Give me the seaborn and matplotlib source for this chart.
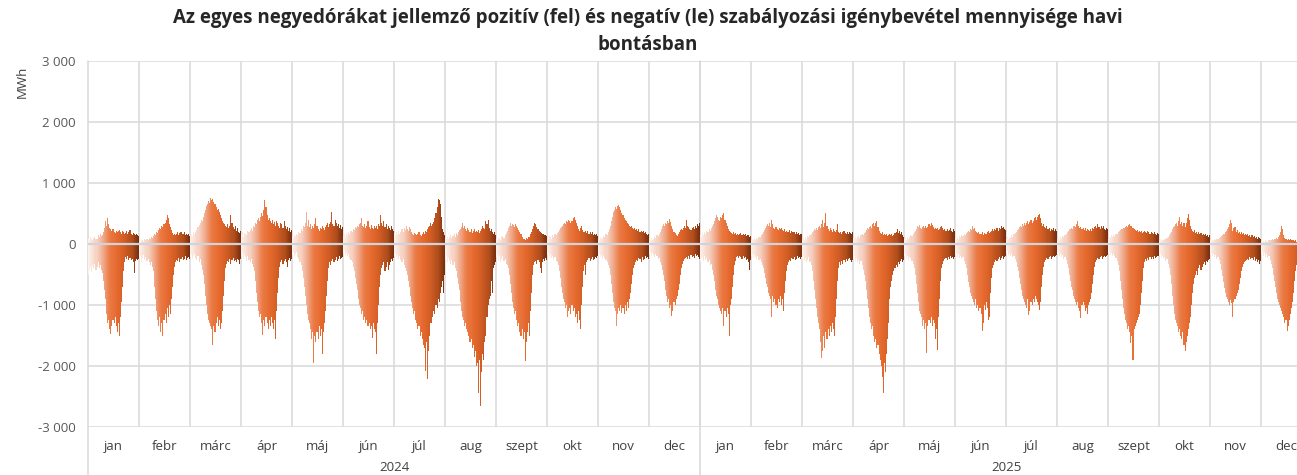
import numpy as np
import pandas as pd
import matplotlib
matplotlib.use("Agg")
import matplotlib.pyplot as plt
from matplotlib.colors import LinearSegmentedColormap, to_hex
from matplotlib.lines import Line2D
import seaborn as sns

# havi hónapnevek és évek
honapok = ["jan", "febr", "márc", "ápr", "máj", "jún", "júl", "aug", "szept", "okt", "nov", "dec"]
evek = ["2024", "2025"]

# 48 félórás érték hónaponként: le = negatív, fel = pozitív (MWh)
le_2024_jan = [-500, -430, -380, -460, -350, -400, -330, -420, -370, -300, -390, -350, -420,
               -480, -600, -750, -900, -1150, -1300, -1250,
               -1400, -1480, -1350, -1250, -1300, -1200, -1350, -1450, -1300, -1500,
               -1200, -950, -700, -450, -300,
               -220, -250, -200, -270, -230, -260, -240, -300, -470, -280, -250, -260, -240]
fel_2024_jan = [90, 70, 110, 80, 60, 100, 120, 80, 90, 150, 110, 170, 130,
                150, 200, 260, 380, 300, 420, 330,
                260, 240, 220, 250, 200, 180, 220, 190, 210, 230,
                200, 170, 220, 190, 160,
                180, 210, 160, 190, 230, 170, 150, 180, 160, 140, 170, 150, 130]

le_2024_feb = [-250, -200, -300, -230, -180, -260, -210, -280, -240, -300, -350, -290, -380,
               -450, -700, -900, -1100, -1250, -1350, -1200,
               -1450, -1300, -1500, -1250, -1150, -1300, -1050, -1200, -1000, -1150,
               -900, -700, -500, -380, -300,
               -260, -280, -230, -300, -250, -220, -270, -240, -200, -260, -230, -210, -250]
fel_2024_feb = [50, 40, 70, 60, 50, 80, 60, 90, 70, 100, 80, 120, 100,
                130, 170, 150, 200, 180, 230, 260,
                250, 300, 280, 320, 350, 400, 480, 420, 330, 280,
                230, 180, 150, 170, 140,
                160, 190, 150, 180, 200, 170, 160, 190, 150, 170, 140, 160, 130]

le_2024_mar = [-220, -180, -250, -200, -170, -230, -260, -200, -300, -250, -350, -420, -500,
               -650, -850, -1000, -1150, -1250, -1300, -1350,
               -1400, -1650, -1350, -1450, -1300, -1200, -1350, -1250, -1400, -1300,
               -1100, -850, -600, -400, -320,
               -280, -300, -250, -320, -270, -230, -280, -260, -300, -240, -270, -320, -250]
fel_2024_mar = [150, 170, 130, 190, 160, 200, 230, 280, 310, 350, 400, 380, 450,
                500, 560, 620, 650, 700, 680, 750,
                720, 740, 690, 650, 600, 560, 580, 520, 480, 430,
                380, 350, 330, 300, 280,
                320, 260, 300, 480, 350, 280, 250, 300, 220, 260, 200, 180, 220]

le_2024_apr = [-200, -150, -250, -180, -220, -280, -200, -260, -300, -240, -330, -380, -450,
               -600, -800, -950, -1100, -1200, -1150, -1300,
               -1490, -1250, -1350, -1200, -1300, -1400, -1250, -1350, -1200, -1300,
               -1400, -1250, -1560, -1100, -800,
               -550, -380, -300, -260, -320, -280, -250, -300, -370, -260, -230, -280, -250]
fel_2024_apr = [150, 200, 120, 180, 160, 140, 210, 190, 230, 260, 220, 300, 280,
                350, 320, 400, 420, 380, 450, 500,
                460, 550, 720, 600, 480, 400, 430, 370, 350, 390,
                320, 360, 300, 380, 340,
                300, 270, 350, 320, 260, 380, 300, 250, 280, 220, 260, 200, 230]

le_2024_maj = [-180, -150, -200, -170, -130, -220, -250, -300, -350, -450, -550, -700, -850,
               -1000, -1150, -1250, -1300, -1400, -1550, -1450,
               -1950, -1500, -1600, -1450, -1550, -1350, -1500, -1400, -1810, -1450,
               -1300, -1100, -850, -600, -400,
               -300, -350, -280, -250, -300, -260, -220, -280, -240, -200, -250, -230, -210]
fel_2024_maj = [120, 100, 150, 130, 170, 140, 200, 180, 250, 220, 300, 280, 350,
                520, 300, 400, 280, 320, 250, 300,
                260, 330, 430, 290, 250, 220, 270, 240, 300, 260,
                230, 280, 310, 350, 280,
                320, 360, 520, 330, 290, 400, 350, 300, 330, 270, 310, 250, 280]

le_2024_jun = [-150, -120, -180, -140, -200, -170, -230, -260, -300, -380, -450, -550, -650,
               -750, -900, -1000, -1050, -1150, -1100, -1250,
               -1200, -1300, -1250, -1350, -1300, -1400, -1350, -1540, -1300, -1400,
               -1450, -1810, -1300, -1000, -700,
               -500, -400, -350, -300, -450, -380, -300, -420, -350, -300, -250, -280, -230]
fel_2024_jun = [130, 160, 120, 180, 150, 200, 170, 220, 190, 250, 230, 280, 260,
                300, 280, 330, 350, 420, 300, 280,
                320, 260, 300, 370, 280, 250, 310, 270, 240, 300,
                260, 290, 250, 330, 300,
                480, 350, 300, 380, 280, 320, 250, 300, 270, 230, 290, 250, 220]

le_2024_jul = [-200, -150, -220, -180, -250, -200, -260, -300, -250, -350, -400, -450, -500,
               -600, -700, -850, -950, -1050, -1150, -1100,
               -1250, -1300, -1400, -1350, -1500, -1450, -1550, -1650, -1700, -2090,
               -1600, -2220, -1750, -1500, -1300,
               -1300, -1200, -1100, -1150, -1000, -1050, -900, -950, -800, -700, -600, -800, -500]
fel_2024_jul = [180, 150, 200, 170, 220, 160, 190, 240, 200, 260, 230, 300, 250,
                220, 280, 240, 200, 170, 150, 180,
                160, 140, 170, 200, 150, 130, 160, 190, 170, 220,
                200, 250, 280, 300, 350,
                300, 330, 360, 420, 500, 600, 730, 720, 650, 450, 250, 200, 150]

le_2024_aug = [-250, -200, -300, -230, -280, -320, -260, -350, -300, -400, -450, -550, -650,
               -750, -950, -1100, -1200, -1250, -1350, -1300,
               -1400, -1450, -1500, -1600, -1550, -1700, -1650, -1850, -1750, -2000,
               -1950, -2440, -1900, -2650, -2100,
               -1800, -1900, -1600, -1500, -1200, -1000, -900, -850, -600, -800, -400, -350, -300]
fel_2024_aug = [100, 80, 120, 90, 110, 140, 100, 130, 160, 120, 180, 150, 200,
                230, 250, 280, 340, 260, 300, 240,
                220, 260, 230, 200, 250, 180, 210, 240, 190, 220,
                200, 230, 180, 210, 250,
                300, 270, 240, 370, 320, 390, 260, 220, 250, 200, 170, 190, 150]

le_2024_szept = [-220, -180, -260, -200, -300, -240, -200, -280, -250, -320, -350, -400, -500,
                 -650, -800, -950, -1050, -1150, -1100, -1250,
                 -1350, -1300, -1450, -1500, -1400, -1550, -1450, -1920, -1600, -1450,
                 -1300, -1500, -1100, -800, -500,
                 -350, -300, -280, -320, -260, -300, -400, -470, -300, -250, -280, -230, -260]
fel_2024_szept = [80, 60, 100, 90, 70, 110, 130, 100, 150, 180, 220, 260, 300,
                  340, 300, 330, 310, 280, 320, 290,
                  260, 230, 200, 160, 120, 90, 80, 70, 100, 90,
                  120, 110, 160, 200, 250,
                  300, 350, 330, 280, 250, 220, 200, 180, 160, 170, 150, 140, 130]

le_2024_okt = [-180, -150, -200, -170, -230, -190, -250, -220, -280, -300, -350, -450, -550,
               -700, -800, -900, -950, -1050, -1000, -1200,
               -1100, -1050, -1150, -1000, -1100, -1050, -1200, -1150, -1300, -1100,
               -1250, -1400, -1000, -700, -450,
               -350, -500, -300, -260, -230, -280, -250, -220, -260, -240, -210, -230, -200]
fel_2024_okt = [100, 80, 130, 110, 90, 140, 120, 160, 150, 180, 200, 230, 260,
                280, 300, 330, 350, 320, 380, 360,
                400, 370, 340, 380, 420, 450, 400, 350, 300, 250,
                220, 260, 300, 230, 200,
                190, 220, 180, 210, 170, 200, 160, 190, 150, 170, 140, 160, 130]

le_2024_nov = [-200, -160, -220, -180, -250, -200, -230, -270, -300, -350, -400, -500, -650,
               -800, -950, -1050, -1100, -1350, -1150, -1050,
               -1100, -1000, -1130, -1050, -1150, -1000, -1100, -950, -1050, -900,
               -800, -650, -500, -400, -350,
               -300, -260, -280, -230, -250, -300, -220, -260, -240, -200, -230, -210, -250]
fel_2024_nov = [90, 70, 110, 80, 100, 130, 110, 160, 140, 200, 250, 300, 380,
                450, 520, 560, 600, 580, 620, 645,
                600, 560, 500, 480, 430, 400, 380, 350, 320, 300,
                280, 300, 260, 240, 270,
                230, 250, 210, 240, 200, 220, 190, 210, 180, 200, 170, 150, 160]

le_2024_dec = [-170, -130, -200, -150, -180, -220, -160, -200, -250, -230, -300, -350, -420,
               -500, -600, -750, -850, -950, -900, -1050,
               -1000, -1180, -1100, -950, -1000, -900, -850, -750, -650, -500,
               -400, -330, -280, -250, -230,
               -220, -250, -200, -240, -180, -210, -190, -230, -170, -200, -180, -220, -240]
fel_2024_dec = [80, 60, 100, 70, 90, 120, 100, 140, 130, 170, 200, 250, 300,
                320, 290, 350, 330, 370, 340, 410,
                360, 300, 250, 200, 180, 150, 130, 160, 200, 230,
                250, 230, 270, 300, 260,
                400, 300, 280, 250, 230, 260, 280, 240, 300, 270, 320, 300, 340]

le_2025_jan = [-300, -250, -220, -280, -200, -260, -230, -300, -270, -350, -330, -420, -500,
               -600, -750, -850, -900, -1000, -1050, -1100,
               -1150, -1050, -1350, -1100, -1200, -1050, -1150, -1510, -1000, -900,
               -700, -500, -350, -280, -220,
               -200, -230, -190, -220, -250, -200, -230, -210, -260, -240, -300, -420, -270]
fel_2025_jan = [150, 120, 180, 140, 200, 170, 220, 190, 240, 210, 260, 300, 330,
                380, 420, 480, 440, 400, 380, 450,
                420, 470, 500, 400, 350, 300, 250, 220, 200, 180,
                170, 190, 160, 180, 150,
                170, 140, 160, 180, 150, 170, 140, 160, 130, 150, 140, 120, 130]

le_2025_feb = [-200, -160, -230, -180, -220, -250, -200, -270, -240, -300, -350, -400, -480,
               -550, -650, -700, -800, -850, -900, -1200,
               -850, -950, -900, -1000, -1050, -900, -950, -850, -1000, -900,
               -1100, -800, -600, -450, -350,
               -300, -260, -280, -230, -250, -220, -270, -240, -200, -230, -210, -250, -220]
fel_2025_feb = [70, 60, 90, 80, 70, 100, 90, 120, 110, 150, 170, 200, 230,
                260, 290, 320, 300, 350, 280, 390,
                330, 260, 240, 280, 250, 230, 270, 240, 260, 230,
                210, 240, 200, 220, 190,
                200, 230, 180, 210, 190, 200, 170, 190, 160, 180, 150, 170, 160]

le_2025_mar = [-250, -200, -280, -230, -300, -260, -220, -290, -350, -450, -600, -750, -900,
               -1050, -1200, -1300, -1400, -1600, -1870, -1750,
               -1500, -1700, -1450, -1550, -1400, -1500, -1350, -1450, -1300, -1400,
               -1500, -1200, -900, -600, -400,
               -300, -350, -280, -320, -260, -300, -240, -280, -250, -230, -270, -300, -260]
fel_2025_mar = [80, 100, 70, 110, 90, 130, 120, 150, 170, 200, 220, 250, 230,
                260, 230, 280, 300, 270, 330, 400,
                280, 350, 510, 300, 250, 220, 260, 230, 200, 240,
                210, 190, 230, 320, 200,
                180, 200, 170, 190, 210, 180, 160, 190, 170, 200, 180, 160, 190]

le_2025_apr = [-250, -200, -280, -230, -300, -260, -330, -280, -350, -420, -500, -600, -750,
               -900, -1050, -1200, -1300, -1400, -1350, -1500,
               -1600, -1550, -1700, -1650, -1800, -1900, -2000, -2180, -2450, -1950,
               -2100, -1800, -1550, -1300, -900,
               -700, -600, -500, -450, -400, -350, -380, -300, -330, -280, -250, -300, -270]
fel_2025_apr = [100, 80, 120, 90, 110, 130, 100, 140, 160, 150, 180, 200, 230,
                260, 240, 280, 300, 270, 320, 340,
                300, 350, 370, 280, 220, 180, 160, 190, 150, 170,
                140, 160, 130, 150, 170,
                140, 160, 130, 150, 180, 200, 240, 180, 210, 160, 190, 140, 120]

le_2025_maj = [-200, -170, -240, -190, -260, -210, -230, -280, -320, -400, -500, -650, -800,
               -950, -1100, -1150, -1200, -1350, -1250, -1400,
               -1300, -1780, -1350, -1250, -1300, -1200, -1350, -1250, -1300, -1550,
               -1400, -1730, -1200, -900, -600,
               -400, -330, -280, -250, -230, -260, -220, -250, -200, -230, -210, -240, -220]
fel_2025_maj = [80, 100, 70, 110, 90, 120, 140, 130, 160, 190, 220, 250, 290,
                280, 310, 260, 250, 280, 300, 270,
                300, 260, 280, 320, 290, 345, 310, 280, 250, 270,
                240, 260, 230, 250, 280,
                290, 260, 230, 250, 220, 240, 210, 230, 270, 220, 200, 240, 210]

le_2025_jun = [-180, -150, -210, -170, -230, -190, -250, -220, -280, -330, -400, -500, -620,
               -700, -800, -850, -900, -950, -1000, -900,
               -1050, -1000, -1100, -1050, -1150, -1430, -1300, -1000, -1080, -950,
               -1050, -1240, -1200, -800, -550,
               -400, -350, -300, -260, -280, -240, -220, -260, -230, -200, -240, -210, -190]
fel_2025_jun = [100, 80, 120, 90, 130, 110, 150, 130, 160, 140, 180, 200, 220,
                200, 240, 230, 290, 250, 270, 220,
                200, 180, 190, 160, 170, 200, 150, 180, 160, 170,
                190, 210, 180, 200, 220,
                240, 210, 250, 230, 260, 220, 270, 240, 290, 260, 280, 250, 230]

le_2025_jul = [-150, -120, -180, -140, -200, -160, -220, -190, -250, -300, -380, -450, -550,
               -650, -750, -850, -900, -950, -1000, -1050,
               -900, -1160, -1100, -950, -1000, -900, -950, -850, -900, -950,
               -1000, -1080, -950, -700, -500,
               -380, -300, -260, -230, -250, -220, -200, -240, -210, -190, -220, -200, -180]
fel_2025_jul = [90, 110, 80, 120, 100, 140, 120, 160, 180, 200, 230, 250, 280,
                300, 280, 320, 300, 340, 310, 350,
                380, 330, 360, 400, 350, 380, 420, 450, 400, 440,
                470, 490, 420, 350, 300,
                320, 280, 260, 290, 240, 270, 220, 250, 230, 260, 210, 240, 220]

le_2025_aug = [-170, -140, -200, -160, -220, -180, -240, -210, -260, -320, -400, -500, -600,
               -700, -750, -850, -900, -950, -1000, -950,
               -1050, -1100, -1210, -1000, -950, -1000, -1100, -1050, -1150, -1000,
               -950, -900, -800, -650, -500,
               -380, -300, -260, -230, -250, -220, -200, -240, -210, -190, -220, -200, -180]
fel_2025_aug = [80, 100, 70, 110, 90, 130, 110, 150, 170, 190, 220, 250, 240,
                270, 250, 290, 300, 280, 320, 370,
                300, 260, 280, 240, 270, 230, 260, 220, 250, 230,
                210, 240, 220, 260, 250,
                280, 300, 270, 330, 280, 250, 300, 270, 290, 250, 230, 270, 240]

le_2025_szept = [-150, -120, -180, -140, -200, -160, -190, -230, -280, -350, -450, -600, -750,
                 -900, -1050, -1150, -1250, -1300, -1400, -1350,
                 -1450, -1620, -1500, -1900, -1400, -1350, -1300, -1250, -1200, -1150,
                 -1000, -800, -600, -400, -300,
                 -250, -280, -230, -260, -220, -250, -210, -240, -200, -230, -220, -200, -190]
fel_2025_szept = [90, 120, 100, 140, 110, 150, 130, 170, 160, 190, 210, 230, 250,
                  240, 270, 260, 280, 300, 280, 310,
                  330, 290, 300, 260, 250, 230, 210, 230, 200, 220,
                  190, 210, 180, 200, 220,
                  200, 180, 210, 190, 170, 200, 180, 160, 190, 170, 150, 180, 160]

le_2025_okt = [-200, -170, -230, -190, -250, -210, -280, -250, -320, -400, -500, -650, -850,
               -1000, -1150, -1250, -1300, -1350, -1450, -1400,
               -1500, -1550, -1450, -1650, -1760, -1600, -1500, -1400, -1300, -1200,
               -1000, -800, -650, -550, -500,
               -450, -500, -400, -350, -420, -380, -330, -300, -350, -280, -300, -260, -240]
fel_2025_okt = [60, 50, 80, 70, 60, 90, 80, 100, 120, 150, 180, 200, 250,
                280, 300, 330, 350, 300, 380, 450,
                320, 360, 300, 340, 280, 350, 420, 490, 400, 300,
                250, 220, 200, 230, 180,
                200, 170, 190, 160, 180, 150, 170, 140, 160, 130, 150, 120, 140]

le_2025_nov = [-170, -140, -200, -160, -220, -180, -240, -210, -270, -330, -420, -520, -620,
               -720, -800, -870, -900, -950, -1000, -920,
               -970, -1200, -950, -900, -850, -800, -750, -650, -550, -450,
               -380, -330, -300, -280, -260,
               -240, -270, -220, -250, -230, -260, -210, -280, -240, -300, -260, -320, -280]
fel_2025_nov = [60, 50, 70, 60, 80, 70, 90, 80, 100, 110, 130, 150, 160,
                170, 200, 220, 250, 280, 330, 390,
                340, 220, 260, 280, 200, 230, 180, 200, 170, 190,
                160, 180, 150, 170, 140,
                160, 130, 150, 120, 140, 110, 130, 100, 120, 90, 110, 100, 80]

le_2025_dec = [-160, -130, -190, -150, -210, -170, -230, -200, -260, -320, -400, -500, -600,
               -700, -800, -900, -950, -1000, -1050, -1100,
               -1150, -1200, -1300, -1250, -1430, -1350, -1250, -1150, -1050, -950,
               -800, -600, -450, -350, -300,
               -280, -250, -230, -260, -220, -240, -210, -230, -200, -220, -190, -210, -180]
fel_2025_dec = [40, 30, 50, 40, 60, 50, 40, 60, 70, 60, 80, 70, 90,
                80, 100, 90, 120, 150, 200, 300,
                250, 150, 100, 80, 70, 90, 60, 80, 70, 60,
                70, 50, 60, 40, 50,
                60, 40, 50, 30, 40, 50, 30, 40, 30, 40, 30, 40, 30]

le_honapok = [le_2024_jan, le_2024_feb, le_2024_mar, le_2024_apr, le_2024_maj, le_2024_jun,
              le_2024_jul, le_2024_aug, le_2024_szept, le_2024_okt, le_2024_nov, le_2024_dec,
              le_2025_jan, le_2025_feb, le_2025_mar, le_2025_apr, le_2025_maj, le_2025_jun,
              le_2025_jul, le_2025_aug, le_2025_szept, le_2025_okt, le_2025_nov, le_2025_dec]
fel_honapok = [fel_2024_jan, fel_2024_feb, fel_2024_mar, fel_2024_apr, fel_2024_maj, fel_2024_jun,
               fel_2024_jul, fel_2024_aug, fel_2024_szept, fel_2024_okt, fel_2024_nov, fel_2024_dec,
               fel_2025_jan, fel_2025_feb, fel_2025_mar, fel_2025_apr, fel_2025_maj, fel_2025_jun,
               fel_2025_jul, fel_2025_aug, fel_2025_szept, fel_2025_okt, fel_2025_nov, fel_2025_dec]

N = 48
for a, b in zip(le_honapok, fel_honapok):
    assert len(a) == N and len(b) == N, (len(a), len(b))

# hosszú tábla a seabornnak
rows = []
for m, (le, fel) in enumerate(zip(le_honapok, fel_honapok)):
    for i in range(N):
        rows.append({"x": m * N + i, "slot": i, "le": le[i], "fel": fel[i]})
df = pd.DataFrame(rows)

# színátmenet a hónapon belül (világos rózsaszín -> narancs -> barna)
cmap = LinearSegmentedColormap.from_list("havi", [
    (0.0, "#FDF0EB"), (0.18, "#F6CDBC"), (0.32, "#EFA07E"), (0.42, "#EA7C47"),
    (0.55, "#E66A2E"), (0.72, "#D25E25"), (0.87, "#B04D1C"), (1.0, "#7A2E0E")])
paletta = {i: to_hex(cmap(i / (N - 1))) for i in range(N)}

sns.set_style("white")
plt.rcParams["font.family"] = ["Open Sans", "DejaVu Sans"]

W, H = 1297, 475
fig = plt.figure(figsize=(W / 100, H / 100), dpi=100)
ax = fig.add_axes([88 / W, 48 / H, 1224 / W, 366 / H])

grid_c = "#D9D9D9"
for y in range(-3000, 3001, 1000):
    ax.axhline(y, color=grid_c, lw=1.1, zorder=0)
for m in range(1, 24):
    ax.axvline(m * N - 0.5, color=grid_c, lw=1.1, zorder=0)

sorrend = list(range(24 * N))
for col in ["fel", "le"]:
    sns.barplot(data=df, x="x", y=col, hue="slot", palette=paletta, order=sorrend,
                dodge=False, width=1.0, linewidth=0, errorbar=None,
                saturation=1, legend=False, ax=ax, zorder=2)

ax.axhline(0, color="#CED4DA", lw=1.6, zorder=3)

ax.set_xlim(-0.5, 24 * N - 0.5)
ax.set_ylim(-3000, 3000)
ax.set_xticks([])
ax.set_yticks(range(-3000, 3001, 1000))
ax.set_yticklabels([f"{v:,}".replace(",", " ") for v in range(-3000, 3001, 1000)])
ax.tick_params(axis="y", length=0, pad=9, labelsize=9.5, labelcolor="#595959")
ax.set_xlabel("")
ax.set_ylabel("")
for s in ax.spines.values():
    s.set_visible(False)

# bal tengely és évelválasztó vonal a feliratsávig
tr = ax.get_xaxis_transform()
for xv in [-0.5, 12 * N - 0.5]:
    ax.add_line(Line2D([xv, xv], [-0.135, 1.0], transform=tr, color=grid_c, lw=1.1,
                       clip_on=False, zorder=1))

for m in range(24):
    ax.text(m * N + N / 2 - 0.5, -0.052, honapok[m % 12], transform=tr, ha="center",
            va="center", fontsize=9.5, color="#404040")
for k, ev in enumerate(evek):
    ax.text(k * 12 * N + 6 * N - 0.5, -0.112, ev, transform=tr, ha="center", va="center",
            fontsize=9.5, color="#404040")

fig.text(22 / W, 1 - 82 / H, "MWh", rotation=90, ha="center", va="center",
         fontsize=9.5, color="#404040")
fig.text(648 / W, 1 - 18 / H,
         "Az egyes negyedórákat jellemző pozitív (fel) és negatív (le) szabályozási igénybevétel mennyisége havi",
         ha="center", va="center", fontsize=13.5, fontweight="bold", color="#262626")
fig.text(648 / W, 1 - 45 / H, "bontásban", ha="center", va="center", fontsize=13.5,
         fontweight="bold", color="#262626")

fig.savefig("out.png", dpi=100)
